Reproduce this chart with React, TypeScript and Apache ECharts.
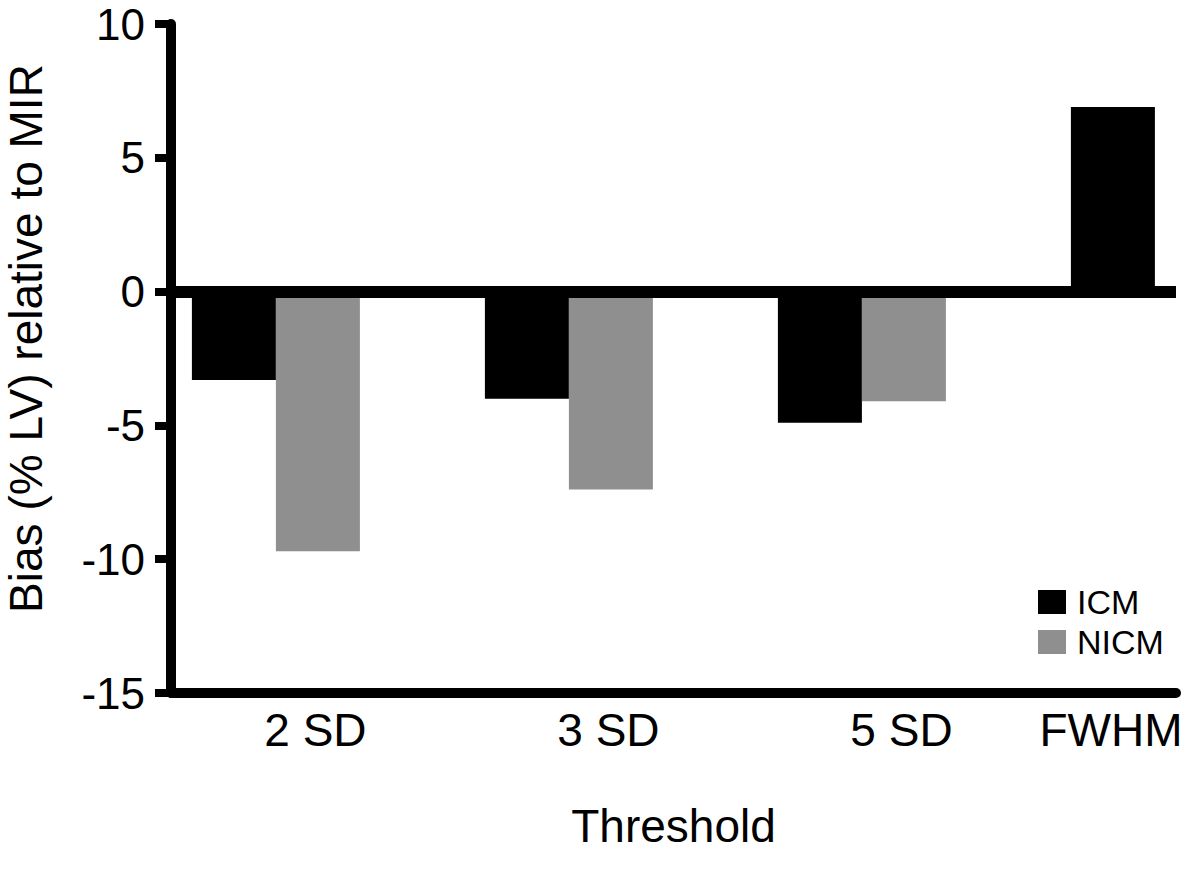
import React, { useEffect, useRef } from "react";
import * as echarts from "echarts";

const categories = ["2 SD", "3 SD", "5 SD", "FWHM"];
const icmValues = [-3.3, -4.0, -4.9, 6.9];
const nicmValues: (number | string)[] = [-9.7, -7.4, -4.1, "-"];
const yTicks = { min: -15, max: 10, interval: 5 };
const seriesNames = ["ICM", "NICM"];

const FONT = '"Liberation Sans", Arial, Helvetica, sans-serif';

export default function App() {
  const ref = useRef<HTMLDivElement>(null);
  useEffect(() => {
    if (!ref.current) return;
    const chart = echarts.init(ref.current, undefined, { renderer: "svg" });
    const last = categories.length - 1;
    const labelValues = categories.map((_, i) => (i === last ? i - 0.15 : i + 0.135));
    chart.setOption({
      animation: false,
      backgroundColor: "#fff",
      textStyle: { fontFamily: FONT },
      grid: {
        left: 171,
        right: 24,
        top: 24,
        bottom: 176,
        containLabel: false,
        outerBoundsMode: "none",
      },
      legend: {
        orient: "vertical",
        left: 1033,
        top: 580,
        itemWidth: 28,
        itemHeight: 24,
        itemGap: 6,
        icon: "rect",
        data: seriesNames,
        textStyle: {
          fontFamily: FONT,
          fontSize: 34,
          lineHeight: 34,
          color: "#000",
          padding: [0, 0, 0, 6],
        },
      },
      xAxis: {
        type: "value",
        min: -0.358,
        max: 3.072,
        name: "Threshold",
        nameLocation: "middle",
        nameGap: 110,
        nameTextStyle: { fontFamily: FONT, fontSize: 46, color: "#000" },
        axisLine: { show: true, onZero: false, lineStyle: { color: "#000", width: 10 } },
        axisTick: { show: false },
        splitLine: { show: false },
        axisLabel: {
          customValues: labelValues,
          fontFamily: FONT,
          fontSize: 46,
          color: "#000",
          margin: 14,
          formatter: (v: number) => categories[Math.round(v)] ?? "",
        },
      },
      yAxis: {
        type: "value",
        min: yTicks.min,
        max: yTicks.max,
        interval: yTicks.interval,
        name: "Bias (% LV) relative to MIR",
        nameLocation: "middle",
        nameGap: 122,
        nameTextStyle: {
          fontFamily: FONT,
          fontSize: 46,
          color: "#000",
          padding: [0, 0, 0, 40],
        },
        axisLine: { show: true, onZero: false, lineStyle: { color: "#000", width: 10 } },
        axisTick: { show: true, length: 16, lineStyle: { color: "#000", width: 8 } },
        splitLine: { show: false },
        axisLabel: { fontFamily: FONT, fontSize: 44, color: "#000", margin: 26 },
      },
      series: [
        {
          name: seriesNames[0],
          type: "bar",
          barWidth: 84,
          barGap: "0%",
          itemStyle: { color: "#000" },
          data: icmValues.map((v, i) => [i, v]),
          markLine: {
            silent: true,
            symbol: ["none", "none"],
            label: { show: false },
            lineStyle: { color: "#000", width: 12, type: "solid" },
            data: [{ yAxis: 0 }],
          },
        },
        {
          name: seriesNames[1],
          type: "bar",
          barWidth: 84,
          barGap: "0%",
          itemStyle: { color: "#8f8f8f" },
          data: nicmValues.map((v, i) => [i, v]),
        },
      ],
    });
    return () => chart.dispose();
  }, []);
  return (
    <div
      ref={ref}
      style={{ position: "fixed", left: 0, top: 0, width: 1200, height: 869, background: "#fff" }}
    />
  );
}
